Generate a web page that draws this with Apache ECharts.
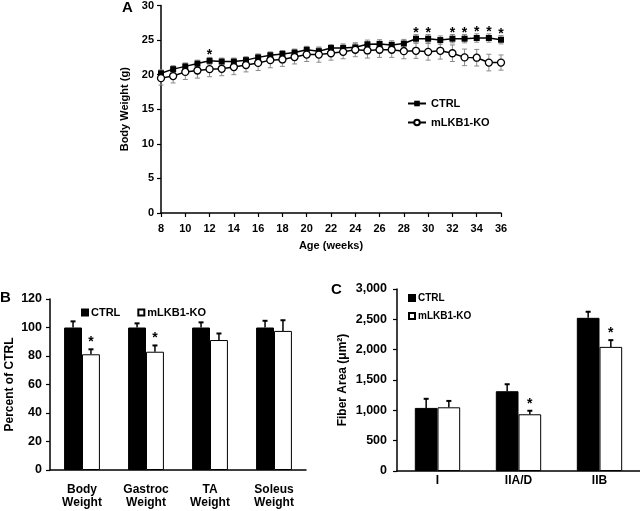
<!DOCTYPE html>
<html><head><meta charset="utf-8">
<script src="https://cdn.jsdelivr.net/npm/echarts@6/dist/echarts.min.js"></script>
<style>html,body{margin:0;padding:0;background:#fff}#c{width:640px;height:511px}</style>
</head><body><div id="c"></div>
<script>
// ---- Panel A: body weight over age ----
const weeks = [8,9,10,11,12,13,14,15,16,17,18,19,20,21,22,23,24,25,26,27,28,29,30,31,32,33,34,35,36];
const ctrlWeight = [20.2,20.8,21.2,21.6,22.0,21.9,21.9,22.1,22.5,22.8,23.0,23.2,23.6,23.4,23.85,23.85,23.95,24.4,24.45,24.3,24.5,25.2,25.2,25.0,25.2,25.2,25.3,25.3,25.05];
const ctrlWeightErr = [0.5,0.5,0.5,0.5,0.5,0.5,0.5,0.5,0.5,0.5,0.5,0.5,0.5,0.5,0.5,0.6,0.6,0.6,0.6,0.6,0.6,0.6,0.6,0.6,0.6,0.6,0.6,0.6,0.6];
const koWeight = [19.5,19.8,20.4,20.6,20.8,20.85,21.1,21.4,21.7,22.1,22.2,22.55,22.9,22.9,23.1,23.3,23.6,23.5,23.6,23.6,23.4,23.45,23.3,23.45,23.1,22.5,22.45,21.75,21.75];
const koWeightErr = [1.0,1.0,1.1,1.1,1.1,1.0,1.1,1.0,1.1,1.1,1.0,1.0,1.0,1.1,1.0,1.0,1.0,1.1,1.1,1.1,1.1,1.1,1.2,1.2,1.2,1.2,1.2,1.2,1.1];
const weightStarWeeks = [12,29,30,32,33,34,35,36];

// ---- Panel B: tissue mass, percent of CTRL ----
const massCategories = ['Body\nWeight','Gastroc\nWeight','TA\nWeight','Soleus\nWeight'];
const massCtrl = [100,100,100,100];
const massCtrlErr = [4.3,2.9,3.6,4.7];
const massKo = [81.2,83.0,91.2,97.6];
const massKoErr = [3.5,4.4,4.6,7.5];
const massKoStar = [1,1,0,0];

// ---- Panel C: fiber area ----
const fiberCategories = ['I','IIA/D','IIB'];
const fiberCtrl = [1040,1315,2525];
const fiberCtrlErr = [150,115,100];
const fiberKo = [1050,935,2046];
const fiberKoErr = [105,58,111];
const fiberKoStar = [0,1,1];

const FF = '"Liberation Sans", Arial, sans-serif';
const BLACK = '#000';

function lineErrRender(color) {
  return function (p, api) {
    const x = api.value(0), v = api.value(1), e = api.value(2);
    const t = api.coord([x, v + e]), b = api.coord([x, v - e]);
    const cx = t[0], cw = 2.5;
    const st = {stroke: color, lineWidth: 1};
    return {type: 'group', children: [
      {type: 'line', shape: {x1: cx, y1: t[1], x2: cx, y2: b[1]}, style: st},
      {type: 'line', shape: {x1: cx - cw, y1: t[1], x2: cx + cw, y2: t[1]}, style: st},
      {type: 'line', shape: {x1: cx - cw, y1: b[1], x2: cx + cw, y2: b[1]}, style: st}
    ]};
  };
}
function barErrRender(sign, showStar) {
  return function (p, api) {
    const c = api.value(0), v = api.value(1), e = api.value(2), s = api.value(3);
    const band = api.size([1, 0])[0];
    const base = api.coord([c, v]);
    const top = api.coord([c, v + e]);
    const cx = base[0] + sign * band * 0.14;
    const kids = [
      {type: 'line', shape: {x1: cx, y1: base[1], x2: cx, y2: top[1]}, style: {stroke: BLACK, lineWidth: 1.5}},
      {type: 'line', shape: {x1: cx - 2.5, y1: top[1], x2: cx + 2.5, y2: top[1]}, style: {stroke: BLACK, lineWidth: 2}}
    ];
    if (showStar && s) {
      kids.push({type: 'text', x: cx, y: top[1] - 7, style: {text: '*', fill: BLACK, font: 'bold 14px ' + FF, align: 'center', verticalAlign: 'middle'}});
    }
    return {type: 'group', children: kids};
  };
}

const weekData = (vals, errs) => weeks.map((w, i) => [w, vals[i], errs[i]]);
const catData = (vals, errs, stars) => vals.map((v, i) => [i, v, errs[i], stars ? stars[i] : 0]);

const axisLineStyle = {lineStyle: {color: BLACK, width: 1.5}};
const tickStyle = {show: true, inside: false, length: 4, lineStyle: {color: BLACK, width: 1.2}};

const option = {
  animation: false,
  backgroundColor: '#fff',
  textStyle: {fontFamily: FF, color: BLACK},
  title: [
    {text: 'A', left: 117, top: -5, textStyle: {fontSize: 15, fontWeight: 'bold', color: BLACK, fontFamily: FF}},
    {text: 'B', left: -5, top: 285, textStyle: {fontSize: 15, fontWeight: 'bold', color: BLACK, fontFamily: FF}},
    {text: 'C', left: 326, top: 277, textStyle: {fontSize: 15, fontWeight: 'bold', color: BLACK, fontFamily: FF}}
  ],
  legend: [
    {data: ['CTRL', 'mLKB1-KO'], orient: 'vertical', left: 402, top: 93, itemWidth: 18, itemHeight: 7, itemGap: 8,
     selectedMode: false, textStyle: {fontSize: 11, fontWeight: 'bold', color: BLACK, fontFamily: FF}},
    {data: [{name: 'CTRL|bar', icon: 'rect'}, {name: 'mLKB1-KO|bar', icon: 'rect'}], orient: 'horizontal', left: 76, top: 302,
     itemWidth: 6, itemHeight: 6, itemGap: 17, selectedMode: false, formatter: n => n.split('|')[0],
     textStyle: {fontSize: 11, fontWeight: 'bold', color: BLACK, fontFamily: FF, padding: [0, 0, 0, -2]}},
    {data: [{name: 'CTRL|bar', icon: 'rect'}, {name: 'mLKB1-KO|bar', icon: 'rect'}], orient: 'vertical', left: 403, top: 288,
     itemWidth: 6, itemHeight: 6, itemGap: 8, selectedMode: false, formatter: n => n.split('|')[0],
     textStyle: {fontSize: 10, fontWeight: 'bold', color: BLACK, fontFamily: FF, padding: [0, 0, 0, -2]}}
  ],
  grid: [
    {left: 161, top: 4, width: 340, height: 209},
    {left: 50, top: 299, width: 256, height: 171},
    {left: 397, top: 289, width: 244, height: 182}
  ],
  xAxis: [
    {type: 'value', gridIndex: 0, min: 8, max: 36, interval: 2, splitLine: {show: false},
     axisLine: axisLineStyle, axisTick: tickStyle,
     axisLabel: {fontSize: 11, fontWeight: 'bold', color: BLACK, margin: 10, fontFamily: FF},
     name: 'Age (weeks)', nameLocation: 'middle', nameGap: 27,
     nameTextStyle: {fontSize: 11, fontWeight: 'bold', color: BLACK, fontFamily: FF}},
    {type: 'category', gridIndex: 1, data: massCategories, axisLine: axisLineStyle, axisTick: {show: false},
     axisLabel: {fontSize: 12, fontWeight: 'bold', color: BLACK, margin: 13, lineHeight: 13, fontFamily: FF}},
    {type: 'category', gridIndex: 2, data: fiberCategories, axisLine: axisLineStyle, axisTick: {show: false},
     axisLabel: {fontSize: 12, fontWeight: 'bold', color: BLACK, margin: 4, fontFamily: FF}}
  ],
  yAxis: [
    {type: 'value', gridIndex: 0, min: 0, max: 30, interval: 5, splitLine: {show: false},
     axisLine: {show: true, lineStyle: {color: BLACK, width: 1.5}}, axisTick: tickStyle,
     axisLabel: {fontSize: 11, fontWeight: 'bold', color: BLACK, margin: 7, fontFamily: FF},
     name: 'Body Weight (g)', nameLocation: 'middle', nameGap: 27, nameRotate: 90,
     nameTextStyle: {fontSize: 11, fontWeight: 'bold', color: BLACK, fontFamily: FF}},
    {type: 'value', gridIndex: 1, min: 0, max: 120, interval: 20, splitLine: {show: false},
     axisLine: {show: true, lineStyle: {color: BLACK, width: 1.5}}, axisTick: tickStyle,
     axisLabel: {fontSize: 12.5, fontWeight: 'bold', color: BLACK, margin: 8, fontFamily: FF},
     name: 'Percent of CTRL', nameLocation: 'middle', nameGap: 34, nameRotate: 90,
     nameTextStyle: {fontSize: 12, fontWeight: 'bold', color: BLACK, fontFamily: FF}},
    {type: 'value', gridIndex: 2, min: 0, max: 3000, interval: 500, splitLine: {show: false},
     axisLine: {show: true, lineStyle: {color: BLACK, width: 1.5}}, axisTick: tickStyle,
     axisLabel: {fontSize: 12.5, fontWeight: 'bold', color: BLACK, margin: 10, fontFamily: FF,
                 formatter: v => v.toLocaleString('en-US')},
     name: 'Fiber Area (μm²)', nameLocation: 'middle', nameGap: 48, nameRotate: 90,
     nameTextStyle: {fontSize: 12, fontWeight: 'bold', color: BLACK, fontFamily: FF}}
  ],
  series: [
    {type: 'custom', xAxisIndex: 0, yAxisIndex: 0, z: 1, renderItem: lineErrRender('#8a8a8a'),
     data: weekData(koWeight, koWeightErr), encode: {x: 0, y: 1}, silent: true},
    {type: 'custom', xAxisIndex: 0, yAxisIndex: 0, z: 1, renderItem: lineErrRender('#8a8a8a'),
     data: weekData(ctrlWeight, ctrlWeightErr), encode: {x: 0, y: 1}, silent: true},
    {name: 'CTRL', type: 'line', xAxisIndex: 0, yAxisIndex: 0, z: 3,
     data: weeks.map((w, i) => [w, ctrlWeight[i]]), symbol: 'rect', symbolSize: 6,
     lineStyle: {color: BLACK, width: 1.5}, itemStyle: {color: BLACK, borderColor: BLACK, borderWidth: 0}},
    {name: 'mLKB1-KO', type: 'line', xAxisIndex: 0, yAxisIndex: 0, z: 4,
     data: weeks.map((w, i) => [w, koWeight[i]]), symbol: 'circle', symbolSize: 7, showAllSymbol: true,
     lineStyle: {color: BLACK, width: 1.5}, itemStyle: {color: '#fff', borderColor: BLACK, borderWidth: 1.3}},
    {type: 'custom', xAxisIndex: 0, yAxisIndex: 0, z: 5, silent: true,
     data: weightStarWeeks.map(w => [w, ctrlWeight[weeks.indexOf(w)]]), encode: {x: 0, y: 1},
     renderItem: (p, api) => {
       const pt = api.coord([api.value(0), api.value(1)]);
       return {type: 'text', x: pt[0], y: pt[1] - 6, style: {text: '*', fill: BLACK, font: 'bold 14px ' + FF, align: 'center', verticalAlign: 'middle'}};
     }},
    {name: 'CTRL|bar', type: 'bar', xAxisIndex: 1, yAxisIndex: 1, data: massCtrl, barWidth: '28%', barGap: '0%',
     itemStyle: {color: BLACK, borderColor: BLACK, borderWidth: 1}},
    {name: 'mLKB1-KO|bar', type: 'bar', xAxisIndex: 1, yAxisIndex: 1, data: massKo, barWidth: '28%', barGap: '0%',
     itemStyle: {color: '#fff', borderColor: BLACK, borderWidth: 1}},
    {type: 'custom', xAxisIndex: 1, yAxisIndex: 1, z: 5, silent: true, renderItem: barErrRender(-1, false),
     data: catData(massCtrl, massCtrlErr), encode: {x: 0, y: 1}},
    {type: 'custom', xAxisIndex: 1, yAxisIndex: 1, z: 5, silent: true, renderItem: barErrRender(1, true),
     data: catData(massKo, massKoErr, massKoStar), encode: {x: 0, y: 1}},
    {name: 'CTRL|bar', type: 'bar', xAxisIndex: 2, yAxisIndex: 2, data: fiberCtrl, barWidth: '28%', barGap: '0%',
     itemStyle: {color: BLACK, borderColor: BLACK, borderWidth: 1}},
    {name: 'mLKB1-KO|bar', type: 'bar', xAxisIndex: 2, yAxisIndex: 2, data: fiberKo, barWidth: '28%', barGap: '0%',
     itemStyle: {color: '#fff', borderColor: BLACK, borderWidth: 1}},
    {type: 'custom', xAxisIndex: 2, yAxisIndex: 2, z: 5, silent: true, renderItem: barErrRender(-1, false),
     data: catData(fiberCtrl, fiberCtrlErr), encode: {x: 0, y: 1}},
    {type: 'custom', xAxisIndex: 2, yAxisIndex: 2, z: 5, silent: true, renderItem: barErrRender(1, true),
     data: catData(fiberKo, fiberKoErr, fiberKoStar), encode: {x: 0, y: 1}}
  ]
};
const chart = echarts.init(document.getElementById('c'), null, {renderer: 'canvas'});
chart.setOption(option);
</script></body></html>
